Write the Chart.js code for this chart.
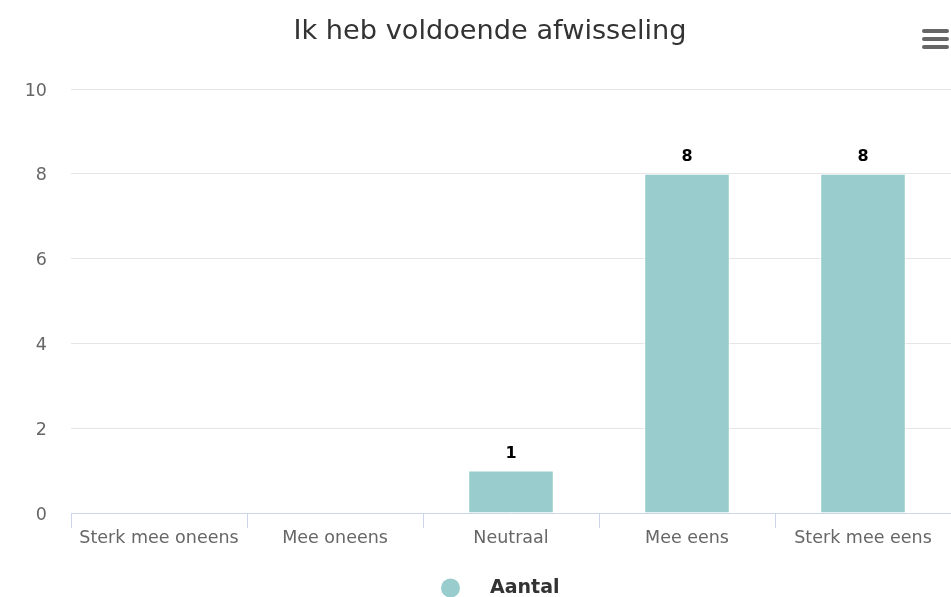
<!DOCTYPE html>
<html>
<head>
<meta charset="utf-8">
<script src="https://cdn.jsdelivr.net/npm/chart.js@4"></script>
<style>
  html, body { margin: 0; padding: 0; background: #fff; }
  #wrap { width: 951px; height: 597px; }
</style>
</head>
<body>
<div id="wrap"><canvas id="chart" width="951" height="597"></canvas></div>
<script>
// chart data
const categories = ['Sterk mee oneens', 'Mee oneens', 'Neutraal', 'Mee eens', 'Sterk mee eens'];
const counts = [0, 0, 1, 8, 8];
const seriesName = 'Aantal';
const yTicks = [0, 2, 4, 6, 8, 10];

const FONT = 'DejaVu Sans';
const barColor = '#99cccc';

// value labels on top of the bars + legend + menu icon
const extras = {
    id: 'extras',
    afterLayout(chart) {
        // title sits a bit right of the canvas centre in the original
        if (chart.titleBlock) chart.titleBlock.left = 29;
    },
    afterDatasetsDraw(chart) {
        const c = chart.ctx;
        const meta = chart.getDatasetMeta(0);
        c.save();
        c.font = 'bold 16px "' + FONT + '"';
        c.fillStyle = '#000';
        c.textAlign = 'center';
        c.textBaseline = 'middle';
        meta.data.forEach((bar, i) => {
            if (!counts[i]) return;
            c.fillText(String(counts[i]), bar.x, bar.y - 17);
        });
        c.restore();
    },
    afterDraw(chart) {
        const c = chart.ctx;
        c.save();
        // legend
        const ly = 588;
        c.fillStyle = barColor;
        c.beginPath();
        c.arc(450.5, ly, 9.5, 0, Math.PI * 2);
        c.fill();
        c.font = 'bold 19px "' + FONT + '"';
        c.fillStyle = '#333333';
        c.textAlign = 'left';
        c.textBaseline = 'middle';
        c.fillText(seriesName, 490, ly);
        // hamburger menu
        c.strokeStyle = '#666666';
        c.lineWidth = 4;
        c.lineCap = 'round';
        [31, 39, 47].forEach(y => {
            c.beginPath();
            c.moveTo(924, y);
            c.lineTo(947, y);
            c.stroke();
        });
        c.restore();
    }
};

new Chart(document.getElementById('chart'), {
    type: 'bar',
    data: {
        labels: categories,
        datasets: [{
            label: seriesName,
            data: counts,
            backgroundColor: barColor,
            borderColor: '#ffffff',
            borderWidth: 1,
            categoryPercentage: 0.6,
            barPercentage: 0.81
        }]
    },
    options: {
        responsive: false,
        animation: false,
        layout: { padding: { left: 0, right: 0, top: 0, bottom: 19 } },
        plugins: {
            legend: { display: false },
            tooltip: { enabled: false },
            title: {
                display: true,
                text: 'Ik heb voldoende afwisseling',
                color: '#333333',
                font: { family: FONT, size: 27.2, weight: 'normal' },
                padding: { top: 16, bottom: 40.4 }
            }
        },
        scales: {
            x: {
                grid: {
                    drawOnChartArea: false,
                    drawTicks: true,
                    tickLength: 15,
                    color: '#ccd6eb'
                },
                border: { color: '#ccd6eb', width: 1, z: 1 },
                ticks: {
                    color: '#666666',
                    font: { family: FONT, size: 17.5 },
                    padding: 0,
                    maxRotation: 0,
                    autoSkip: false
                },
                afterFit(scale) { scale.height = 65; }
            },
            y: {
                min: 0,
                max: 10,
                afterBuildTicks(scale) { scale.ticks = yTicks.map(v => ({ value: v })); },
                grid: {
                    color: ctx => ctx.tick && ctx.tick.value === 0 ? 'rgba(0,0,0,0)' : '#e6e6e6',
                    drawTicks: false
                },
                border: { display: false },
                ticks: {
                    color: '#666666',
                    font: { family: FONT, size: 17.5 },
                    padding: 24,
                    labelOffset: 2
                },
                afterFit(scale) { scale.width = 71; }
            }
        }
    },
    plugins: [extras]
});
</script>
</body>
</html>
